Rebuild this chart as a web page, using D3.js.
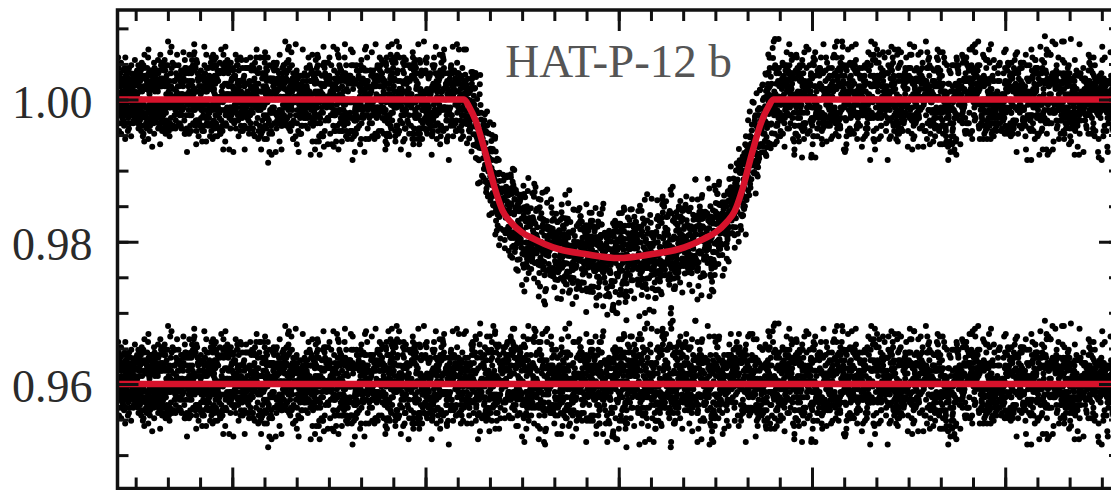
<!DOCTYPE html>
<html><head><meta charset="utf-8">
<script src="https://cdn.jsdelivr.net/npm/d3@7"></script>
<style>html,body{margin:0;padding:0;background:#fff;} svg{display:block;}</style>
</head><body>
<svg id="c" width="1111" height="490"></svg>
<script>
// ---------- data ----------
const title = "HAT-P-12 b";
const yLabelValues = [0.96, 0.98, 1.00];
const yLabels = ["0.96", "0.98", "1.00"];
const xMajorTicks = [-2, -1, 0, 1, 2];
const timeRange = [-2.594, 2.594];          // hours from mid-transit
const fluxRange = [0.945305, 1.012583];
const residualLevel = 0.96;
// transit model
const modelTime = [-2.594, -0.80, -0.775, -0.74, -0.69, -0.64, -0.60, -0.56, -0.50, -0.44, -0.34, -0.16, 0,
                   0.16, 0.34, 0.44, 0.50, 0.56, 0.60, 0.64, 0.69, 0.74, 0.775, 0.80, 2.594];
const modelFlux = [1.0, 1.0, 0.9990, 0.9970, 0.9925, 0.9874, 0.9843, 0.9828, 0.9813, 0.9804, 0.9792, 0.9782, 0.9777,
                   0.9782, 0.9792, 0.9804, 0.9813, 0.9828, 0.9843, 0.9874, 0.9925, 0.9970, 0.9990, 1.0, 1.0];
// residual codes (level 50 = zero); each row is one transit epoch, folded in phase
const residualStep = 0.00037;
const residualCodes = `
47 58 39 52 61 44 50 35 66 42 55 49 71 38 46 53 60 41 57 48 33 62 45 51 68 40 54 29 59 47 43 56 50 64 37 52 45 74 49 58
41 36 55 63 47 51 26 60 44 53 49 57 38 65 46 42 52 59 34 50 67 45 48 55 40 61 53 31 47 56 44 69 39 51 58 43 62 49 36 54
50 45 72 41 57 48 53 35 60 46 52 64 39 47 55 42 58 28 51 44 63 49 37 56 46 53 68 40 50 59 43 47 54 33 61 45 52 49 57 38
66 44 51 47 39 58 53 42 60 48 35 55 50 62 41 46 57 43 73 49 54 38 52 45 59 47 64 40 56 30 50 44 61 53 37 48 55 42 51 58
46 63 39 52 49 57 41 54 34 60 47 51 44 69 38 55 48 53 42 59 36 50 65 45 52 40 57 49 62 43 27 54 46 51 58 39 48 61 44 56
50 37 53 67 45 49 42 58 52 40 55 47 33 60 44 51 63 38 49 56 46 71 41 53 48 59 35 52 45 62 43 50 57 39 54 47 64 41 73 51
44 55 38 61 49 46 52 57 36 50 43 58 65 47 41 53 39 56 48 60 45 28 54 50 42 63 47 37 55 51 59 44 68 40 52 46 57 49 34 53
62 48 41 54 45 59 37 51 56 43 50 66 39 47 53 44 61 49 35 57 46 52 40 74 48 55 42 58 50 31 63 45 51 38 56 47 53 60 43 49
38 62 47 71 43 55 30 58 49 66 41 53 35 60 46 69 52 27 57 44 63 50 39 74 48 56 33 61 45 52 67 40 58 36 54 49 64 31 55 47
59 34 52 68 45 40 63 51 29 57 48 65 37 54 43 70 50 32 61 46 56 39 73 44 53 28 60 49 66 42 55 35 58 47 62 38 51 69 41 57
45 67 36 54 60 31 58 49 43 71 52 38 64 46 57 33 62 50 40 68 47 55 26 59 44 65 51 37 61 48 72 42 56 34 63 50 39 67 45 53
52 40 57 46 64 39 50 55 43 48 61 36 53 47 58 42 51 70 45 49 38 56 44 60 52 41 47 67 54 33 50 46 59 43 55 48 62 37 51 45
57 44 49 63 38 52 46 55 41 60 48 34 54 50 43 65 47 56 39 51 58 45 28 53 49 61 42 47 55 36 59 44 50 52 69 40 46 57 43 54
48 59 41 53 37 62 45 50 56 42 47 64 39 55 51 44 58 33 52 46 60 49 71 43 54 40 57 48 35 61 45 52 47 63 38 50 56 42 53 49
44 55 68 40 51 47 58 36 53 45 61 49 42 56 50 39 64 46 52 31 57 48 43 59 54 41 47 66 38 50 55 44 62 49 35 53 46 58 40 51
60 43 52 48 37 56 45 71 50 41 54 47 59 39 53 62 44 49 57 34 51 46 64 42 55 48 38 60 45 52 50 67 40 47 56 43 53 29 58 49
41 54 47 62 39 51 57 44 50 36 59 48 53 42 65 46 55 40 52 49 61 37 47 56 43 58 50 45 33 63 51 44 57 48 70 41 54 46 39 52
55 47 60 42 51 49 38 57 45 63 53 40 48 56 35 52 46 59 44 50 67 41 54 39 58 47 52 61 43 49 55 37 64 45 51 57 42 48 53 30
49 58 43 53 46 65 40 51 56 38 54 47 61 44 50 36 59 48 52 42 57 73 45 50 39 55 47 62 41 53 49 34 58 46 51 60 43 56 48 44
64 41 55 33 69 47 52 60 37 58 44 72 49 35 61 53 30 66 45 57 40 63 51 28 59 46 70 43 54 38 65 48 56 32 62 50 42 68 39 57
37 58 50 65 42 56 29 61 47 54 68 40 52 34 63 45 59 71 43 55 36 60 49 66 31 57 46 53 39 69 44 62 50 27 58 48 64 41 55 35
56 43 70 38 53 62 46 33 59 50 41 67 35 57 48 64 42 52 30 61 45 58 74 39 54 47 66 36 60 51 43 69 32 56 49 63 40 55 45 28
53 39 62 47 51 44 58 41 55 49 36 60 46 52 64 43 50 57 38 54 48 45 61 40 53 68 47 51 42 56 35 59 49 44 52 63 41 55 47 50
46 57 50 42 61 48 37 55 52 44 59 40 53 47 66 39 51 56 43 49 62 34 54 46 58 41 50 45 71 52 38 57 48 43 60 51 46 30 55 49
58 45 51 64 40 53 47 56 36 50 44 61 49 42 55 59 38 52 46 63 41 54 48 33 57 50 45 60 43 52 67 39 49 56 44 51 47 58 42 53
50 62 39 48 55 43 57 46 52 35 60 49 41 54 65 44 50 47 58 38 53 45 61 42 56 48 72 40 51 46 59 37 54 49 44 63 52 41 57 47
43 56 48 60 38 51 45 54 63 41 49 57 46 36 52 59 44 50 66 42 55 47 39 58 51 45 62 34 53 48 56 41 50 61 47 44 54 52 29 59
52 47 64 42 55 39 50 58 45 53 61 37 48 56 43 51 68 46 40 57 49 54 35 60 47 52 44 59 41 55 50 63 38 46 53 57 42 49 65 45
47 54 40 58 49 45 62 51 36 56 44 53 48 60 39 52 57 43 50 47 69 41 55 46 61 38 53 49 44 58 34 51 56 47 42 64 50 45 59 52
56 41 51 47 63 44 55 38 50 59 46 52 42 57 49 65 37 54 48 45 60 51 43 56 33 53 47 62 40 50 58 44 52 46 71 41 55 49 39 57
49 66 40 57 31 62 53 44 70 37 55 48 60 27 58 45 65 41 54 35 68 50 42 61 47 56 33 63 52 39 71 46 57 34 60 44 53 67 38 50
61 35 54 47 67 42 58 30 63 49 56 38 72 45 51 33 60 48 66 40 55 29 62 46 53 69 37 57 44 64 31 59 50 41 68 48 36 56 52 43
42 69 51 36 60 45 64 55 32 58 47 70 39 53 61 44 28 57 50 66 41 54 35 63 48 59 73 43 52 37 65 46 56 30 61 49 40 67 54 46
45 60 49 53 40 56 47 51 64 43 58 38 52 46 55 61 42 50 48 35 57 53 44 59 47 41 63 50 54 37 56 45 51 60 43 48 67 52 40 55
51 46 57 42 52 37 61 48 55 44 50 66 39 53 47 58 43 51 56 41 62 49 36 54 46 59 52 40 57 45 50 64 38 53 48 44 31 58 51 47
58 43 50 55 46 62 41 52 48 57 35 54 49 60 44 51 38 56 47 53 42 65 50 45 58 39 52 47 61 43 55 49 72 41 54 46 50 57 44 60
40 53 47 59 51 44 56 37 62 49 45 54 42 58 50 46 64 39 52 55 43 48 60 36 57 51 45 53 41 59 47 68 44 50 56 38 52 49 61 46
55 48 63 41 50 57 45 52 38 59 47 54 43 51 62 46 56 40 49 53 33 58 45 60 42 55 48 51 66 44 50 39 57 46 53 47 63 41 54 27
47 52 44 58 61 39 53 48 56 45 50 42 65 47 54 37 59 51 44 57 49 62 41 52 46 55 40 58 48 53 64 43 50 36 56 47 51 59 45 54
62 45 51 40 56 48 54 43 60 50 37 57 46 52 68 41 55 49 44 58 35 53 47 61 42 50 56 45 52 63 39 48 55 46 59 43 51 57 41 49
53 38 57 47 64 44 50 55 42 59 46 52 61 40 49 56 43 54 48 66 37 51 57 45 53 41 60 48 34 55 50 44 62 47 52 39 58 46 51 70
57 40 63 48 34 66 52 45 59 38 71 50 43 62 36 55 47 68 33 58 51 42 64 29 56 46 61 39 54 70 44 57 35 63 49 52 27 59 45 65
35 61 46 58 70 41 53 37 64 49 55 31 60 44 67 51 39 57 45 62 26 54 48 66 42 59 34 63 50 38 69 47 56 33 61 43 52 72 40 58
66 48 39 55 44 62 30 59 51 69 37 54 46 63 41 57 33 65 49 53 40 71 45 58 36 61 50 28 64 47 55 42 68 38 56 52 44 60 32 53
44 59 48 52 41 55 63 46 50 38 57 53 45 60 42 51 47 56 36 62 49 44 54 58 40 52 46 65 43 50 57 48 41 55 61 45 53 31 49 56
59 47 42 61 50 54 45 37 58 49 52 44 64 41 55 48 53 39 60 46 51 57 43 67 47 52 40 56 49 45 59 38 54 50 63 44 48 57 42 51
48 55 60 43 52 46 57 40 51 63 47 54 38 56 45 50 61 42 53 49 35 58 46 52 44 69 41 55 48 57 43 50 62 39 54 47 51 45 59 36
54 42 50 58 45 61 39 53 47 56 43 52 66 44 49 57 41 60 48 54 46 37 59 51 43 55 50 63 40 47 56 45 53 49 72 42 57 46 52 38
41 57 53 46 62 49 44 56 51 35 59 47 54 42 60 50 45 63 39 52 48 57 43 55 61 46 50 38 58 44 53 49 65 41 56 47 51 34 60 48
57 50 45 55 40 52 64 47 58 43 51 49 37 61 46 54 42 56 50 68 44 53 39 59 48 45 57 52 41 62 49 55 46 36 53 60 43 50 47 58
46 61 52 39 56 48 53 44 59 50 62 41 47 55 45 51 38 57 53 44 65 49 42 58 47 54 36 60 51 46 56 43 52 63 40 49 57 45 29 53
52 44 58 49 47 63 42 55 50 38 57 46 53 60 44 51 67 40 54 48 59 45 52 37 61 49 43 56 47 50 64 41 55 46 58 52 39 57 44 50
44 57 67 34 52 48 61 40 56 27 63 50 45 70 38 55 59 42 66 31 54 47 62 36 57 49 73 41 53 64 35 58 46 51 39 68 43 60 48 56
53 32 59 46 65 39 57 50 43 68 36 61 48 55 29 64 44 52 38 70 47 56 41 60 34 67 51 45 62 37 58 49 66 30 55 43 63 48 71 40
60 45 52 38 63 54 41 69 33 58 47 64 50 36 56 43 72 39 61 46 53 28 65 49 57 40 62 35 54 48 67 42 59 31 63 51 44 56 37 66
49 56 40 53 61 45 50 57 43 54 47 34 59 52 46 62 41 55 48 44 57 50 66 42 53 47 60 39 51 56 45 49 63 43 54 37 58 48 52 46
61 43 55 48 52 39 58 46 64 50 44 56 41 53 49 59 36 54 47 51 62 45 50 43 57 40 55 68 46 52 48 60 42 53 35 56 50 45 59 47
38 54 47 59 44 51 56 49 42 63 46 53 58 40 50 55 45 61 37 52 48 57 43 54 65 47 51 39 59 44 50 56 33 53 48 62 42 55 46 51
56 48 52 44 60 37 54 49 57 43 51 66 45 50 39 58 47 53 61 42 55 46 49 36 59 52 44 57 41 63 48 54 50 45 58 40 52 71 47 55
43 59 50 46 55 62 41 52 48 56 38 60 47 54 44 51 57 35 53 49 64 42 56 46 50 59 45 53 40 61 47 52 55 43 49 57 38 54 60 46
53 47 63 40 51 57 45 54 49 36 58 44 52 61 48 55 42 50 67 46 53 39 57 50 44 60 48 41 55 52 46 62 37 56 49 45 53 58 42 50
58 41 49 55 46 52 60 43 57 50 45 63 39 53 48 56 44 51 38 59 47 54 62 42 50 57 36 55 48 53 45 61 40 52 46 69 43 57 51 47
45 56 52 38 61 48 54 46 59 42 51 57 44 50 65 40 55 47 53 58 43 49 37 60 52 46 56 41 54 48 62 45 51 34 57 50 44 59 47 53
39 64 48 57 31 61 46 53 66 42 55 35 59 50 69 37 54 45 62 40 57 33 68 47 52 60 38 56 44 71 36 58 49 63 41 54 27 61 46 52
62 37 55 70 43 58 34 60 49 45 66 39 53 57 32 64 48 41 59 52 68 36 55 46 61 30 57 50 44 65 40 54 62 35 58 47 69 42 53 38
47 59 41 63 52 36 67 45 56 30 61 50 42 58 73 44 55 38 64 48 53 33 62 46 69 40 56 51 35 60 43 66 49 29 58 54 39 63 45 57
50 62 44 57 47 53 41 59 52 46 55 39 60 48 51 43 56 50 64 45 37 58 53 47 61 42 49 55 46 52 40 57 51 66 44 54 48 39 58 45
55 42 59 48 50 64 45 53 37 57 51 46 54 41 62 49 56 44 52 35 58 47 60 43 51 55 48 70 42 53 46 59 49 44 56 38 61 50 47 52
41 53 48 60 45 55 51 43 58 47 63 39 52 56 46 50 61 42 54 49 57 36 53 45 59 48 44 62 51 40 55 47 53 65 43 50 58 46 52 32
57 46 51 43 62 49 56 40 53 48 59 45 50 38 57 52 44 63 47 55 41 58 50 46 54 67 42 51 56 39 60 48 45 53 49 61 44 57 50 43
47 60 45 54 39 52 58 48 44 56 50 65 42 53 47 61 38 55 49 46 57 43 52 59 48 36 54 50 62 45 51 57 41 55 47 53 66 40 49 56
52 44 57 50 47 61 43 55 49 37 58 46 53 42 60 51 45 56 39 54 48 63 44 52 57 41 50 47 59 35 55 49 46 62 42 53 58 48 51 30
46 58 40 53 64 47 51 45 56 42 59 49 54 38 52 60 46 50 44 57 68 43 55 48 53 39 58 45 51 61 47 54 42 56 50 37 59 46 53 49
60 48 52 46 55 41 57 50 63 44 49 56 40 53 47 58 45 51 62 38 54 49 46 59 43 52 55 47 36 60 50 44 57 53 48 64 41 55 46 51
54 43 61 34 57 66 40 52 47 63 38 56 29 60 49 65 41 53 36 59 45 70 33 58 50 42 64 37 55 48 61 32 57 44 67 39 54 50 62 41
36 58 50 67 44 54 31 62 48 39 65 53 45 71 37 56 42 60 51 28 59 46 64 40 55 34 63 49 57 43 68 38 52 61 35 56 47 66 30 53
63 46 39 57 52 69 42 55 33 61 47 58 36 64 50 44 67 31 56 48 62 40 53 72 45 59 37 54 66 41 57 49 34 60 46 63 38 55 51 43
44 55 49 62 42 51 46 57 53 39 60 48 55 45 50 66 43 52 47 58 41 54 61 46 50 37 56 49 53 44 59 47 51 63 40 55 48 52 45 57
53 47 56 41 58 50 45 54 48 61 43 52 37 57 49 55 46 60 42 53 50 64 45 48 56 39 58 51 44 54 47 62 41 52 59 46 50 35 57 48
49 61 44 53 47 56 40 59 51 46 55 42 63 48 52 45 58 38 54 50 47 60 43 56 52 41 57 69 46 50 53 44 61 48 55 39 52 47 58 43
56 43 52 58 45 50 62 47 54 39 57 48 44 60 51 46 53 41 59 49 55 36 52 46 63 44 50 57 42 54 48 59 45 51 66 40 56 49 47 53
50 57 46 41 55 49 60 43 53 47 58 52 38 56 45 61 48 54 44 50 57 42 65 47 53 40 59 51 45 55 48 62 43 52 37 57 50 46 54 49
45 54 61 48 52 43 57 39 55 50 46 63 42 53 58 47 51 44 60 36 56 49 53 45 59 41 52 48 67 44 55 50 46 57 40 54 61 47 51 43
58 46 52 55 42 60 48 53 45 50 64 41 56 47 38 59 52 44 54 49 61 43 57 46 51 39 58 53 45 62 48 50 55 42 56 47 35 60 52 44
47 53 49 44 62 46 55 51 40 58 47 54 43 60 50 45 57 52 39 56 48 63 44 53 49 58 41 55 46 51 66 43 57 50 45 59 48 54 42 52
48 65 55 40 61 35 58 47 70 43 53 29 62 50 57 38 66 45 52 60 34 56 49 68 41 55 32 63 47 59 44 71 39 54 50 37 65 42 58 46
57 39 47 62 30 56 51 66 44 59 37 54 48 69 42 61 35 57 46 53 65 40 58 27 55 50 63 38 60 45 52 67 36 57 49 41 62 53 44 68
41 60 68 45 54 38 63 49 32 58 52 44 66 39 56 47 71 42 59 35 53 62 48 57 36 64 43 51 70 40 55 46 61 33 58 50 65 37 54 47
55 41 58 50 46 53 63 44 52 48 57 37 54 49 61 45 51 56 43 59 47 52 40 55 50 64 46 53 42 58 48 44 56 51 38 60 47 53 49 57
42 56 47 54 59 49 44 52 61 40 55 50 46 58 43 53 68 47 51 45 57 39 54 48 60 52 44 56 41 53 49 62 45 50 57 36 55 47 52 59
51 48 60 43 54 47 56 50 38 58 45 52 63 46 49 55 41 57 50 44 59 47 53 35 56 48 61 42 54 51 46 58 43 50 65 45 53 49 40 56
59 45 50 56 41 62 48 53 46 55 42 57 49 51 64 44 52 47 58 39 54 50 45 61 43 56 48 53 37 59 46 51 55 42 57 49 60 44 52 47
46 55 42 59 50 47 54 63 44 51 57 48 40 56 45 53 49 61 43 58 46 52 66 41 55 50 47 59 44 53 38 57 51 48 62 45 54 42 56 50
53 49 57 45 52 40 58 47 55 61 43 51 46 59 50 37 56 48 54 44 63 42 53 57 46 51 49 60 45 55 41 58 47 52 50 64 44 56 39 54
44 61 37 55 48 66 41 52 58 33 50 63 46 54 39 57 70 43 51 47 60 35 53 49 64 42 56 28 59 45 52 67 40 55 48 38 62 50 44 57
53 40 65 47 58 36 51 62 44 56 31 49 60 42 54 68 46 39 57 50 63 45 52 34 59 48 55 41 66 47 53 37 61 44 50 58 43 72 49 56
65 44 51 36 59 47 72 41 56 53 34 62 45 58 40 67 50 31 61 48 55 43 69 38 57 46 63 29 54 51 60 42 66 47 35 59 44 56 52 39
50 33 62 55 42 66 48 57 38 63 46 52 70 35 59 44 61 49 28 56 53 41 64 37 58 47 68 43 55 32 60 50 45 67 39 54 62 46 57 40
43 67 37 58 51 46 61 29 56 48 64 40 54 59 36 63 45 52 69 41 57 34 60 49 66 38 53 47 72 44 55 31 62 50 42 58 37 65 48 56
60 45 38 54 67 49 42 57 51 35 63 47 55 40 59 46 52 64 37 53 48 61 43 29 56 50 45 58 39 62 52 47 55 41 65 48 36 57 53 46
42 58 51 64 39 53 47 60 34 56 49 62 44 52 38 57 45 67 50 41 55 63 46 32 59 48 54 40 61 51 43 57 69 45 53 37 60 49 55 44
56 47 62 40 54 31 58 49 45 65 43 52 57 38 50 61 46 53 36 59 48 70 42 55 47 63 39 51 58 44 27 56 50 64 41 53 46 59 52 38
49 63 44 57 52 37 60 46 54 41 66 48 35 58 51 45 62 43 56 39 53 68 47 50 59 40 55 33 61 48 52 44 65 46 57 42 50 60 37 54
45 55 60 38 52 47 64 43 57 50 36 59 53 44 68 41 51 62 48 30 56 46 58 39 54 63 49 42 57 35 60 52 45 66 43 55 48 38 61 50
58 42 49 66 45 53 40 61 48 56 33 59 51 44 63 37 55 47 60 52 41 71 46 54 38 57 50 64 43 53 47 35 62 49 56 40 58 45 67 51
51 64 39 55 47 60 43 52 69 46 37 58 50 62 41 54 48 34 57 53 45 65 40 59 51 44 61 36 55 49 63 42 56 47 52 39 60 72 45 53
47 56 52 41 63 38 57 49 54 44 61 35 59 46 52 66 42 55 48 31 58 50 64 43 53 39 60 47 55 45 68 40 51 57 46 62 37 54 49 58
46 55 30 63 49 58 43 67 40 54 61 37 56 47 52 71 34 59 45 63 39 55 48 28 62 51 44 66 36 57 53 41 60 47 69 42 56 35 64 50
61 38 57 48 65 42 53 34 60 46 56 68 41 55 37 62 50 45 59 32 67 44 54 40 63 49 57 36 61 47 53 70 38 58 43 55 29 64 46 52
52 43 61 47 56 38 64 49 45 58 41 66 50 36 55 47 62 44 53 59 40 68 46 51 34 57 49 63 42 55 48 70 39 54 45 60 51 37 57 46
45 58 50 35 63 48 54 42 67 51 44 59 38 56 47 65 41 53 49 30 61 46 57 43 69 50 39 55 62 44 52 36 58 48 64 41 56 47 53 60
59 47 38 62 44 53 69 40 57 46 52 33 60 49 55 42 66 48 37 58 51 45 63 39 54 47 71 43 56 50 35 61 46 53 40 65 48 57 44 51
41 64 52 46 57 39 61 48 54 43 70 37 55 50 62 45 29 58 47 53 40 67 44 56 51 36 63 49 45 59 42 55 68 38 52 47 60 43 54 49
56 39 48 67 42 55 46 59 31 62 50 44 57 41 53 64 47 38 60 52 45 56 35 68 49 43 58 51 40 63 46 54 33 57 48 61 44 52 66 37
48 62 55 40 53 47 65 43 58 50 37 61 45 69 39 54 48 56 42 60 27 57 51 46 64 40 53 59 45 36 62 49 55 43 58 47 70 41 50 55
63 44 51 57 36 60 49 42 66 47 54 39 58 52 44 71 38 55 46 62 50 41 57 34 59 53 47 65 40 56 49 44 61 37 54 67 42 58 46 52
39 57 46 53 61 44 70 50 38 56 43 64 48 55 32 60 47 52 66 41 58 45 54 37 62 51 44 68 39 57 48 53 43 60 35 56 50 46 63 42
55 48 60 42 50 66 39 57 46 53 61 35 58 44 51 47 63 40 55 49 69 43 56 38 61 47 52 28 64 45 58 41 53 66 44 50 57 39 61 48
47 61 37 54 44 58 52 45 63 30 56 49 67 42 54 40 59 51 36 64 46 53 43 58 50 65 41 55 47 39 62 52 45 57 71 42 48 60 37 55
60 41 53 65 49 35 57 46 52 61 44 58 40 55 68 47 33 62 49 54 43 59 46 66 38 56 50 44 61 53 36 58 47 64 41 52 57 45 49 27
44 56 67 39 55 48 62 43 50 57 36 63 47 53 45 60 41 71 49 56 39 52 64 46 58 34 55 48 43 62 50 57 40 66 46 53 38 59 52 47
53 38 50 59 43 64 47 56 41 69 52 46 33 60 48 57 44 53 62 37 55 50 46 61 42 58 67 45 52 39 63 48 56 41 54 30 60 47 55 62
49 65 44 52 57 40 55 31 62 47 58 43 61 50 39 56 66 45 52 48 60 41 57 53 36 64 49 44 59 46 70 42 55 50 37 61 48 56 43 58
62 46 57 36 51 68 44 58 49 54 40 65 46 52 59 42 50 37 63 55 45 69 41 57 48 33 60 53 46 56 43 62 50 38 58 47 65 44 52 40
42 55 48 63 45 60 38 53 57 44 67 49 36 58 51 64 43 55 47 29 61 52 44 57 62 40 54 48 66 37 56 45 59 51 43 68 39 55 48 61
57 50 40 56 66 43 54 47 61 35 59 45 53 70 41 56 49 60 38 54 47 63 51 42 58 36 65 46 55 50 61 44 33 57 52 46 62 41 56 48
46 61 53 44 38 59 50 65 43 57 48 62 40 55 46 34 61 52 57 44 67 49 39 56 51 45 60 47 72 41 53 58 45 63 38 55 49 44 60 53
55 37 62 48 57 52 41 60 46 70 39 54 51 44 63 57 47 41 66 50 35 58 53 45 61 43 56 39 52 64 48 57 42 50 59 46 31 62 47 56
43 58 49 66 40 55 47 34 61 52 45 57 64 42 53 48 59 37 55 62 44 51 67 46 40 58 52 36 63 49 55 45 68 41 57 53 44 60 39 50
61 45 56 41 53 62 48 57 38 50 65 43 59 47 36 63 54 45 52 60 41 57 32 64 48 55 43 61 50 39 66 47 53 58 44 37 61 52 46 69
50 63 38 59 47 44 68 52 42 61 48 55 39 57 66 44 50 62 47 29 59 53 45 64 40 57 51 46 70 43 55 61 37 52 48 60 45 56 41 54
38 52 60 46 65 39 55 49 58 44 71 51 46 35 60 49 56 42 63 53 47 58 41 55 62 37 59 45 53 48 64 32 56 50 44 61 54 47 66 43
58 47 44 63 51 57 40 62 34 55 48 60 53 43 57 46 69 40 54 51 38 63 49 56 44 59 35 60 47 52 41 67 46 58 50 55 42 63 48 36
47 59 52 40 57 35 63 47 55 66 42 50 61 45 53 38 59 48 56 43 64 47 52 60 39 55 49 44 57 68 40 53 47 62 36 58 52 45 59 51
64 42 49 58 45 61 53 41 59 48 54 37 67 52 45 59 43 62 36 57 50 46 61 53 42 70 48 39 56 50 59 44 53 41 65 46 57 33 53 46
40 56 65 51 43 54 46 67 44 52 60 47 39 55 62 34 57 50 45 63 41 56 48 37 60 52 66 43 54 46 58 51 40 61 47 55 64 42 50 57
53 48 57 36 62 49 58 44 51 39 64 56 47 60 41 53 46 68 51 44 57 39 59 46 52 63 45 55 31 61 48 43 66 53 57 40 46 60 55 44
59 40 46 61 52 43 56 63 38 57 45 51 66 43 49 58 40 55 61 47 53 45 42 67 55 47 58 41 63 52 38 57 49 45 62 51 43 58 36 61
45 63 55 48 38 66 41 53 58 46 62 35 54 49 72 45 56 52 38 60 47 64 55 43 50 57 34 62 48 56 44 60 52 69 41 48 56 39 63 50
`;

// ---------- chart ----------
const svg = d3.select("#c");
const frame = {left: 117.5, right: 1120, top: 10, bottom: 488.5};
const x = d3.scaleLinear().domain(timeRange).range([frame.left, frame.right]);
const y = d3.scaleLinear().domain(fluxRange).range([frame.bottom, frame.top]);

// each row = one epoch; rows are folded together in phase
const epochs = residualCodes.trim().split("\n").map(l => l.trim().split(/\s+/).map(v => (+v - 50) * residualStep));
const nEpochs = epochs.length;
const nPhase = d3.max(epochs, e => e.length);
const cadence = (timeRange[1] - timeRange[0]) / (nEpochs * nPhase);
const modelAt = d3.scaleLinear().domain(modelTime).range(modelFlux).clamp(true);
const points = [];
epochs.forEach((row, e) => row.forEach((r, k) => {
  const t = timeRange[0] + (k * nEpochs + e + 0.5) * cadence;
  points.push({t: t, flux: modelAt(t) + r, res: residualLevel + r});
}));

svg.append("defs").append("clipPath").attr("id", "clip")
  .append("rect").attr("x", frame.left).attr("y", frame.top)
  .attr("width", frame.right - frame.left).attr("height", frame.bottom - frame.top);

const plot = svg.append("g").attr("clip-path", "url(#clip)");
const dotR = 3.0;
plot.append("g").selectAll("circle").data(points).join("circle")
  .attr("cx", d => x(d.t)).attr("cy", d => y(d.flux)).attr("r", dotR).attr("fill", "#000");
plot.append("g").selectAll("circle").data(points).join("circle")
  .attr("cx", d => x(d.t)).attr("cy", d => y(d.res)).attr("r", dotR).attr("fill", "#000");

const red = "#d6122b";
const modelLine = d3.line().x(d => x(d[0])).y(d => y(d[1])).curve(d3.curveMonotoneX);
plot.append("path").datum(modelTime.map((t, i) => [t, modelFlux[i]]))
  .attr("d", modelLine).attr("fill", "none").attr("stroke", red).attr("stroke-width", 6.5)
  .attr("stroke-linejoin", "round");
plot.append("path").datum([[timeRange[0], residualLevel], [timeRange[1], residualLevel]])
  .attr("d", modelLine).attr("fill", "none").attr("stroke", red).attr("stroke-width", 6.5);

// ticks
const xMinor = d3.range(-15, 16).map(k => k / 6);
const yMinor = d3.range(189, 203).map(k => k * 0.005);
function styleAxis(g) {
  g.select(".domain").remove();
  g.selectAll(".tick line").attr("stroke", "#111").attr("stroke-width", 3);
}
function addAxis(axis, tx, ty) {
  return svg.append("g").attr("transform", `translate(${tx},${ty})`).call(axis).call(styleAxis);
}
const minorLen = -11, majorLen = -21;
addAxis(d3.axisTop(x).tickValues(xMinor).tickSizeInner(minorLen).tickSizeOuter(0).tickFormat(""), 0, frame.top);
addAxis(d3.axisTop(x).tickValues(xMajorTicks).tickSizeInner(majorLen).tickSizeOuter(0).tickFormat(""), 0, frame.top);
addAxis(d3.axisBottom(x).tickValues(xMinor).tickSizeInner(minorLen).tickSizeOuter(0).tickFormat(""), 0, frame.bottom);
addAxis(d3.axisBottom(x).tickValues(xMajorTicks).tickSizeInner(majorLen).tickSizeOuter(0).tickFormat(""), 0, frame.bottom);
addAxis(d3.axisRight(y).tickValues(yMinor).tickSizeInner(minorLen).tickSizeOuter(0).tickFormat(""), frame.right, 0);
addAxis(d3.axisRight(y).tickValues(yLabelValues).tickSizeInner(majorLen).tickSizeOuter(0).tickFormat(""), frame.right, 0);
addAxis(d3.axisLeft(y).tickValues(yMinor).tickSizeInner(minorLen).tickSizeOuter(0).tickFormat(""), frame.left, 0);
const left = addAxis(d3.axisLeft(y).tickValues(yLabelValues).tickSizeInner(majorLen).tickSizeOuter(0)
  .tickPadding(25).tickFormat(d => yLabels[yLabelValues.indexOf(d)]), frame.left, 0);
left.attr("font-family", "'Liberation Serif', 'DejaVu Serif', serif").attr("font-size", 46);
left.selectAll(".tick text").attr("fill", "#2a2a2a").attr("dy", "0.39em");

// frame
svg.append("rect").attr("x", frame.left).attr("y", frame.top)
  .attr("width", frame.right - frame.left).attr("height", frame.bottom - frame.top)
  .attr("fill", "none").attr("stroke", "#111").attr("stroke-width", 3.5);

// title
svg.append("text").attr("x", x(0)).attr("y", 77).attr("text-anchor", "middle")
  .attr("font-family", "'Liberation Serif', 'DejaVu Serif', serif").attr("font-size", 47)
  .attr("fill", "#555").text(title);
</script>
</body></html>
